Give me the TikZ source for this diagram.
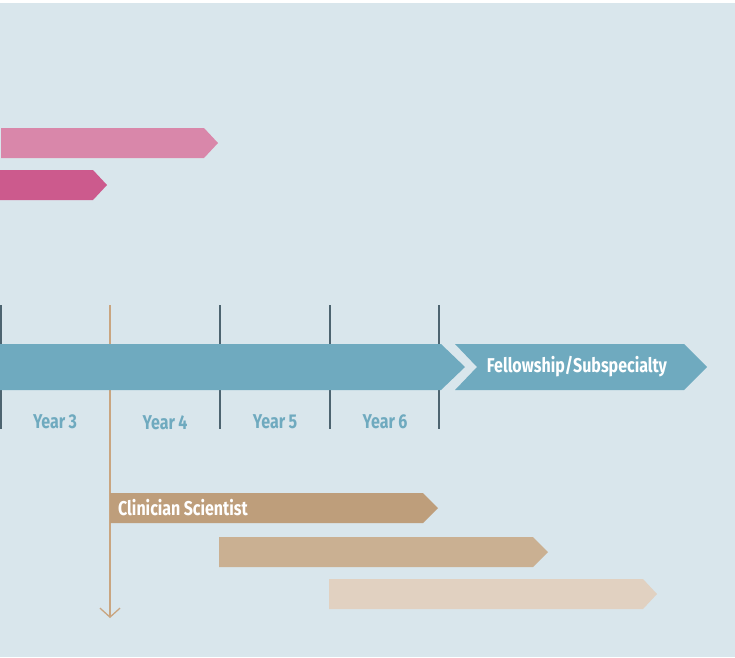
\documentclass[tikz,border=0pt]{standalone}
\usepackage{fontspec}
\newfontfamily\condfont[FakeStretch=0.8]{Fira Sans}
\definecolor{bg}{HTML}{D9E6EC}
\definecolor{pinkA}{HTML}{D987AA}
\definecolor{pinkB}{HTML}{CC5A8D}
\definecolor{teal}{HTML}{6FAABF}
\definecolor{tick}{HTML}{4D6470}
\definecolor{tanA}{HTML}{BE9E7B}
\definecolor{tanB}{HTML}{CAB092}
\definecolor{tanC}{HTML}{E1D1C1}
\definecolor{tanline}{HTML}{C9A580}
\usetikzlibrary{arrows.meta}
\tikzset{
  bar/.style={fill=#1,draw=none},
  ticklabel/.style={font=\condfont\bfseries\fontsize{20}{22}\selectfont,text=teal,inner sep=0pt},
  barlabel/.style={font=\condfont\bfseries\fontsize{20}{22}\selectfont,text=white,inner sep=0pt},
  tickline/.style={draw=tick,line width=1.6pt},
}
\begin{document}
\begin{tikzpicture}[x=1pt,y=-1pt]
\useasboundingbox (0,0) rectangle (735,657);
\fill[white] (0,0) rectangle (735,3);
\fill[bg] (0,3) rectangle (735,657);
% pink bars
\fill[bar=pinkA] (1,128) -- (204,128) -- (218,143) -- (204,158) -- (1,158) -- cycle;
\fill[bar=pinkB] (0,170) -- (93,170) -- (107,185) -- (93,200) -- (0,200) -- cycle;
% ticks
\foreach \x/\n in {0.8/t0,220/t1,330/t2,439/t3} {
  \coordinate (\n top) at (\x,305);
  \coordinate (\n bot) at (\x,429);
  \draw[tickline] (\n top) -- (\n bot);
}
% tan timeline arrow
\coordinate (ctop) at (110,305);
\coordinate (cend) at (110,618);
\draw[tanline,line width=1.3pt,-{Straight Barb[length=9pt,width=20pt,line width=1.3pt]}] (ctop) -- (cend);
% main bar
\fill[bar=teal] (0,344) -- (441,344) -- (465,367) -- (441,390) -- (0,390) -- cycle;
\fill[bar=teal] (455,344) -- (684,344) -- (707,367) -- (684,390) -- (455,390) -- (477,367) -- cycle;
\node[barlabel] (fellow) at (577,367) {Fellowship/Subspecialty};
% year labels
\node[ticklabel] (y3) at (55,422) {Year\,3};
\node[ticklabel] (y4) at (165,423) {Year\,4};
\node[ticklabel] (y5) at (275,422) {Year\,5};
\node[ticklabel] (y6) at (385,422) {Year\,6};
% tan bars
\fill[bar=tanA] (110,493) -- (423,493) -- (438,508) -- (423,523) -- (110,523) -- cycle;
\node[barlabel,anchor=west] (clin) at (118,508) {Clinician\,Scientist};
\fill[bar=tanB] (219,537) -- (533,537) -- (548,552) -- (533,567) -- (219,567) -- cycle;
\fill[bar=tanC] (329,579) -- (643,579) -- (657,594) -- (643,609) -- (329,609) -- cycle;
\end{tikzpicture}
\end{document}
